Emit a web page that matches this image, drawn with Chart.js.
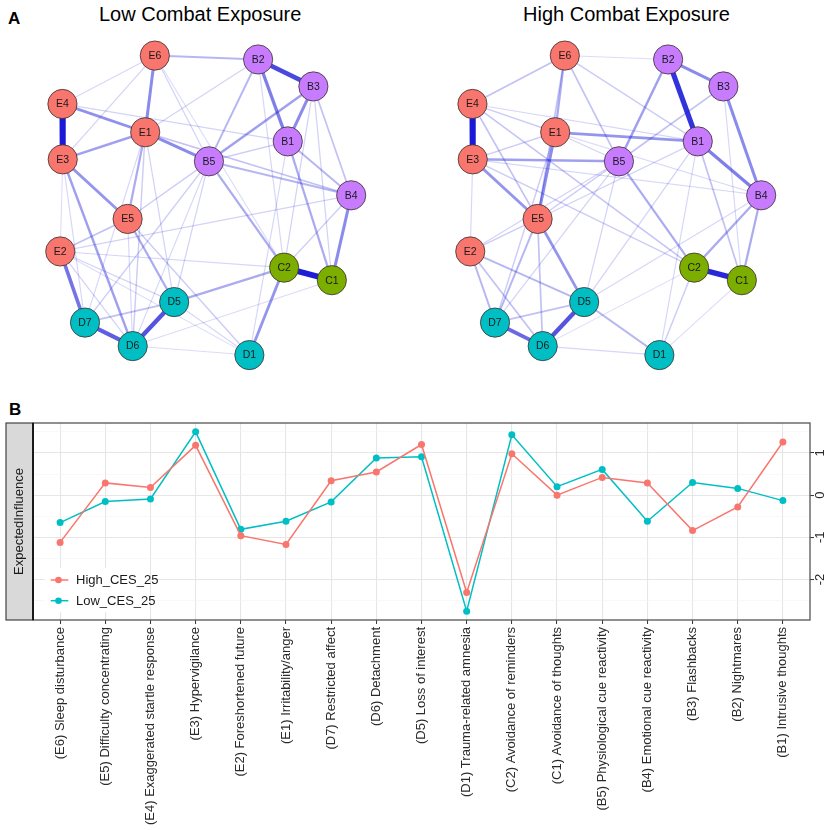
<!DOCTYPE html>
<html>
<head>
<meta charset="utf-8">
<script src="https://cdn.jsdelivr.net/npm/chart.js@4.4.1/dist/chart.umd.min.js"></script>
<style>
  body { margin: 0; background: #fff; width: 829px; height: 830px; position: relative; overflow: hidden;
         font-family: "Liberation Sans", Arial, sans-serif; }
  .abs { position: absolute; }
  .panel { font-weight: bold; font-size: 17px; line-height: 17px; color: #000; }
  .title { font-size: 20px; line-height: 20px; text-align: center; color: #000; white-space: nowrap; }
</style>
</head>
<body>
<div class="abs panel" style="left:8px; top:10px;">A</div>
<div class="abs title" style="left:99px; width:200px; top:4px;">Low Combat Exposure</div>
<div class="abs title" style="left:523px; width:200px; top:4px;">High Combat Exposure</div>
<div class="abs" style="left:0; top:0;"><canvas id="netLow" width="410" height="390"></canvas></div>
<div class="abs" style="left:410px; top:0;"><canvas id="netHigh" width="410" height="390"></canvas></div>
<div class="abs panel" style="left:9px; top:401px;">B</div>
<div class="abs" style="left:0; top:390px;"><canvas id="ei" width="829" height="440"></canvas></div>

<script>
// ---- network layout (shared by both graphs) ----
const nodeNames = ['E6','B2','B3','E4','E1','B1','E3','B5','B4','E5','E2','C2','C1','D5','D7','D6','D1'];
const layoutX = [-0.35, 0.36, 0.74, -0.985, -0.416, 0.564, -0.983, 0.022, 1.00, -0.537, -1.00, 0.539, 0.867, -0.217, -0.83, -0.502, 0.30];
const layoutY = [1.00, 0.974, 0.794, 0.677, 0.488, 0.427, 0.307, 0.294, 0.067, -0.091, -0.308, -0.416, -0.50, -0.646, -0.783, -0.94, -1.00];
const groupColors = { E: '#F8766D', B: '#C77CFF', C: '#7CAE00', D: '#00BFC4' };

// edges: [from, to, weight]
const edgesLow = [
  ['E4','E3',1.0], ['C2','C1',0.95], ['B2','B3',0.75], ['D6','D5',0.7], ['D7','D6',0.65],
  ['E2','D7',0.55], ['B2','B1',0.5], ['B3','B1',0.45], ['B4','C1',0.45], ['E6','E1',0.45],
  ['E1','B5',0.45], ['E4','E1',0.42], ['E3','E5',0.4], ['E3','E1',0.35], ['E3','D6',0.35],
  ['B3','B5',0.35], ['C2','D1',0.4], ['D5','C2',0.3], ['B5','C2',0.3], ['B1','C1',0.3],
  ['B1','B4',0.25], ['B5','B4',0.25], ['E1','B4',0.2], ['E6','B2',0.25], ['E5','D5',0.3],
  ['E1','E5',0.3], ['B2','B5',0.25], ['B3','B4',0.2], ['E2','E5',0.2], ['D7','D5',0.2],
  ['E1','D6',0.15], ['E4','B1',0.12], ['B5','B1',0.15], ['E6','E4',0.1], ['E6','E3',0.12],
  ['E6','B5',0.12], ['E6','C2',0.08], ['B2','E1',0.12], ['E3','E2',0.08], ['E2','B4',0.12],
  ['E2','C2',0.1], ['E2','D6',0.12], ['E2','D5',0.12], ['E2','D1',0.08], ['E5','B5',0.15],
  ['E5','D1',0.15], ['D7','B5',0.15], ['D6','B5',0.1], ['D5','B5',0.12], ['D5','D1',0.1],
  ['D6','D1',0.08], ['D6','C1',0.08], ['C2','B3',0.12], ['C2','B4',0.15], ['C2','B2',0.1],
  ['C1','B3',0.12], ['D1','B1',0.1], ['E1','D5',0.12], ['E1','D7',0.1], ['E3','D7',0.1],
  ['E5','D6',0.1]
];
const edgesHigh = [
  ['E4','E3',1.0], ['C2','C1',0.9], ['B2','B1',0.85], ['D6','D5',0.7], ['D7','D6',0.6],
  ['B2','B3',0.45], ['B3','B4',0.45], ['B1','B4',0.5], ['E1','B1',0.4], ['E3','B5',0.35],
  ['E1','E5',0.45], ['E6','E1',0.3], ['E3','E5',0.4], ['E5','D5',0.4], ['B2','B5',0.35],
  ['B5','C2',0.3], ['B4','C2',0.3], ['B4','C1',0.3], ['E2','D5',0.25], ['E2','D7',0.25],
  ['E2','D6',0.2], ['E4','E6',0.2], ['E6','B5',0.2], ['E6','B1',0.15], ['E4','E5',0.2],
  ['E4','C2',0.18], ['E3','C2',0.15], ['E5','D7',0.25], ['E5','D6',0.2], ['D5','D1',0.25],
  ['D7','D5',0.2], ['B3','B5',0.2], ['B1','C1',0.2], ['C2','D1',0.15], ['B5','E5',0.15],
  ['B5','E2',0.12], ['B1','D5',0.12], ['E6','E5',0.2], ['E1','D7',0.15], ['E3','E1',0.15],
  ['E4','E1',0.15], ['E1','B5',0.12], ['E1','B4',0.1], ['E3','B4',0.1], ['B5','D5',0.12],
  ['B5','D7',0.12], ['B1','E5',0.12], ['B4','D5',0.1], ['C2','D6',0.08], ['D6','D1',0.1],
  ['B3','C1',0.1], ['B1','D1',0.1], ['E2','E3',0.1], ['E2','E5',0.15], ['E4','B1',0.1],
  ['E6','B2',0.08], ['C1','D1',0.08]
];

// ---- expected influence ----
const categories = [
  '(E6) Sleep disturbance', '(E5) Difficulty concentrating', '(E4) Exaggerated startle response',
  '(E3) Hypervigilance', '(E2) Foreshortened future', '(E1) Irritability/anger',
  '(D7) Restricted affect', '(D6) Detachment', '(D5) Loss of interest',
  '(D1) Trauma-related amnesia', '(C2) Avoidance of reminders', '(C1) Avoidance of thoughts',
  '(B5) Physiological cue reactivity', '(B4) Emotional cue reactivity', '(B3) Flashbacks',
  '(B2) Nightmares', '(B1) Intrusive thoughts'
];
const highCES = [-1.12, 0.29, 0.18, 1.18, -0.96, -1.17, 0.34, 0.55, 1.20, -2.31, 0.98, 0.00, 0.42, 0.29, -0.84, -0.28, 1.26];
const lowCES  = [-0.65, -0.15, -0.09, 1.50, -0.81, -0.62, -0.16, 0.88, 0.91, -2.75, 1.43, 0.20, 0.61, -0.62, 0.30, 0.16, -0.13];
const yTicks = [-2.5, -2, -1.5, -1, -0.5, 0, 0.5, 1, 1.5];

Chart.defaults.font.family = '"Liberation Sans", Arial, sans-serif';

const nodeLabels = {
  id: 'nodeLabels',
  afterDatasetsDraw(chart) {
    const { ctx, scales } = chart;
    ctx.save();
    ctx.font = '10.5px "Liberation Sans", Arial, sans-serif';
    ctx.fillStyle = '#1a1a1a';
    ctx.textAlign = 'center';
    ctx.textBaseline = 'middle';
    nodeNames.forEach((n, i) => {
      ctx.fillText(n, scales.x.getPixelForValue(layoutX[i]), scales.y.getPixelForValue(layoutY[i]) + 0.5);
    });
    ctx.restore();
  }
};

function drawNetwork(id, edges) {
  const idx = {};
  nodeNames.forEach((n, i) => { idx[n] = i; });
  const sorted = edges.slice().sort((a, b) => b[2] - a[2]);
  const edgeSets = sorted.map(([a, b, w]) => ({
    data: [{ x: layoutX[idx[a]], y: layoutY[idx[a]] }, { x: layoutX[idx[b]], y: layoutY[idx[b]] }],
    showLine: true,
    pointRadius: 0,
    borderColor: `rgba(25,25,215,${Math.min(1, 0.08 + 0.95 * w)})`,
    borderWidth: 0.6 + 5.4 * w
  }));
  const nodeSet = {
    data: nodeNames.map((n, i) => ({ x: layoutX[i], y: layoutY[i] })),
    pointRadius: 14.6,
    pointBackgroundColor: nodeNames.map(n => groupColors[n[0]]),
    pointBorderColor: 'rgba(60,45,45,0.8)',
    pointBorderWidth: 1
  };
  new Chart(document.getElementById(id), {
    type: 'scatter',
    data: { datasets: [nodeSet, ...edgeSets] },
    options: {
      responsive: false,
      animation: false,
      events: [],
      layout: { padding: 0 },
      scales: {
        x: { display: false, min: -1.307, max: 1.297 },
        y: { display: false, min: -1.129, max: 1.267 }
      },
      plugins: { legend: { display: false }, tooltip: { enabled: false } }
    },
    plugins: [nodeLabels]
  });
}

drawNetwork('netLow', edgesLow);
drawNetwork('netHigh', edgesHigh);

const panelDecor = {
  id: 'panelDecor',
  afterDraw(chart) {
    const { ctx, chartArea: a } = chart;
    ctx.save();
    // panel border
    ctx.strokeStyle = '#555';
    ctx.lineWidth = 1.3;
    ctx.strokeRect(a.left, a.top, a.right - a.left, a.bottom - a.top);
    // facet strip on the left
    ctx.fillStyle = '#D9D9D9';
    ctx.fillRect(6, a.top, a.left - 6, a.bottom - a.top);
    ctx.strokeStyle = '#333';
    ctx.lineWidth = 1.1;
    ctx.strokeRect(6, a.top, a.left - 6, a.bottom - a.top);
    ctx.beginPath();
    ctx.moveTo(a.left, a.top);
    ctx.lineTo(a.left, a.bottom);
    ctx.lineWidth = 1.8;
    ctx.strokeStyle = '#111';
    ctx.stroke();
    ctx.save();
    ctx.translate((6 + a.left) / 2, (a.top + a.bottom) / 2);
    ctx.rotate(-Math.PI / 2);
    ctx.fillStyle = '#1a1a1a';
    ctx.font = '13px "Liberation Sans", Arial, sans-serif';
    ctx.textAlign = 'center';
    ctx.textBaseline = 'middle';
    ctx.fillText('ExpectedInfluence', 0, 0);
    ctx.restore();
    // legend inside panel
    ctx.fillStyle = '#fff';
    ctx.fillRect(a.left + 12, a.bottom - 52, 104, 44);
    chart.data.datasets.forEach((ds, i) => {
      const y = a.bottom - 40 + i * 20.7;
      ctx.strokeStyle = ds.borderColor;
      ctx.lineWidth = 1.5;
      ctx.beginPath();
      ctx.moveTo(a.left + 17.7, y);
      ctx.lineTo(a.left + 35.3, y);
      ctx.stroke();
      ctx.fillStyle = ds.borderColor;
      ctx.beginPath();
      ctx.arc(a.left + 25.5, y, 3.3, 0, Math.PI * 2);
      ctx.fill();
      ctx.fillStyle = '#1a1a1a';
      ctx.font = '13px "Liberation Sans", Arial, sans-serif';
      ctx.textAlign = 'left';
      ctx.textBaseline = 'middle';
      ctx.fillText(ds.label, a.left + 43, y + 0.5);
    });
    ctx.restore();
  }
};

const isMajor = v => Number.isInteger(v);

new Chart(document.getElementById('ei'), {
  type: 'line',
  data: {
    datasets: [
      { label: 'High_CES_25', data: highCES.map((v, i) => ({ x: i, y: v })),
        borderColor: '#F8766D', backgroundColor: '#F8766D', borderWidth: 1.5,
        pointRadius: 3.5, pointBorderWidth: 0, pointBackgroundColor: '#F8766D' },
      { label: 'Low_CES_25', data: lowCES.map((v, i) => ({ x: i, y: v })),
        borderColor: '#00BFC4', backgroundColor: '#00BFC4', borderWidth: 1.5,
        pointRadius: 3.5, pointBorderWidth: 0, pointBackgroundColor: '#00BFC4' }
    ]
  },
  options: {
    responsive: false,
    animation: false,
    events: [],
    layout: { padding: { left: 33, top: 33, right: 0, bottom: 0 } },
    scales: {
      x: {
        type: 'linear',
        min: -0.6,
        max: 16.6,
        afterBuildTicks: s => { s.ticks = categories.map((c, i) => ({ value: i })); },
        afterFit: s => { s.height = 210; },
        ticks: {
          autoSkip: false, minRotation: 90, maxRotation: 90, padding: 3,
          color: '#2a2a2a', font: { size: 13 },
          callback: v => categories[v]
        },
        grid: { color: '#E6E6E6', lineWidth: 1.1, tickLength: 4, tickColor: '#333', tickWidth: 1 },
        border: { display: false }
      },
      y: {
        position: 'right',
        min: -2.96,
        max: 1.71,
        afterBuildTicks: s => { s.ticks = yTicks.map(v => ({ value: v })); },
        afterFit: s => { s.width = 19; },
        ticks: {
          minRotation: 90, maxRotation: 90, crossAlign: 'center', padding: 1,
          color: '#2a2a2a', font: { size: 13 },
          callback: v => (isMajor(v) ? String(v) : '')
        },
        grid: {
          color: c => (c.tick && isMajor(c.tick.value) ? '#E6E6E6' : '#F4F4F4'),
          lineWidth: c => (c.tick && isMajor(c.tick.value) ? 1.1 : 0.6),
          tickColor: c => (c.tick && isMajor(c.tick.value) ? '#333' : 'rgba(0,0,0,0)'),
          tickLength: 4,
          tickWidth: 1
        },
        border: { display: false }
      }
    },
    plugins: { legend: { display: false }, tooltip: { enabled: false } }
  },
  plugins: [panelDecor]
});
</script>
</body>
</html>
